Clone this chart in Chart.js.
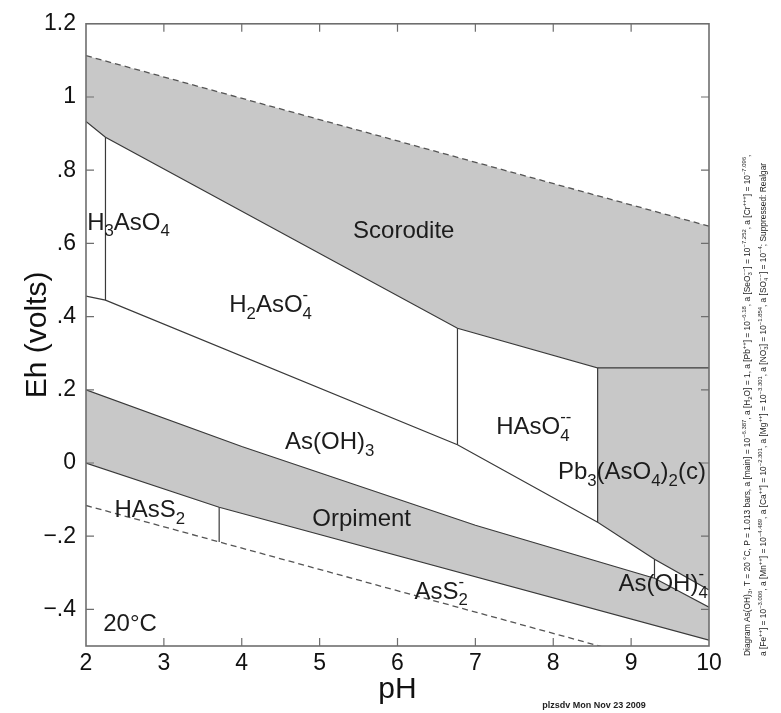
<!DOCTYPE html>
<html><head><meta charset="utf-8">
<script src="https://cdn.jsdelivr.net/npm/chart.js@4.4.1/dist/chart.umd.min.js"></script>
<style>html,body{margin:0;padding:0;background:#fff;} #wrap{width:781px;height:713px;}</style>
</head><body><div id="wrap"><canvas id="c" width="781" height="713"></canvas></div>
<script>
// ---------- axis ticks ----------
const pHTicks = [2, 3, 4, 5, 6, 7, 8, 9, 10];
const ehTicks = [-0.4, -0.2, 0, 0.2, 0.4, 0.6, 0.8, 1.0, 1.2];

// ---------- boundaries (pH, Eh volts) ----------
// water stability limits (dashed)
const o2LinePH = [2, 10];
const o2LineEh = [1.113, 0.647];
const h2LinePH = [2, 10];
const h2LineEh = [-0.116, -0.582];
// lower edge of the Scorodite + Pb3(AsO4)2(c) field
const oxideEdgePH = [2, 2.25, 6.77, 8.57, 8.57, 9.30, 10];
const oxideEdgeEh = [0.933, 0.890, 0.368, 0.260, -0.162, -0.263, -0.347];
// Scorodite / Pb3(AsO4)2(c)
const scorPbPH = [8.57, 10];
const scorPbEh = [0.260, 0.260];
// As(V) aqueous / As(OH)3
const as5as3PH = [2, 2.25, 6.77, 8.57];
const as5as3Eh = [0.456, 0.445, 0.050, -0.162];
// H3AsO4 / H2AsO4-
const h3h2PH = [2.25, 2.25];
const h3h2Eh = [0.890, 0.445];
// H2AsO4- / HAsO4--
const h2h1PH = [6.77, 6.77];
const h2h1Eh = [0.368, 0.050];
// As(OH)3 / As(OH)4-
const asohPH = [9.30, 9.30];
const asohEh = [-0.263, -0.315];
// HAsS2 / AsS2-
const hass2PH = [3.71, 3.71];
const hass2Eh = [-0.121, -0.216];
// Orpiment field
const orpTopPH = [2, 4, 7, 9.30, 10];
const orpTopEh = [0.200, 0.045, -0.170, -0.315, -0.394];
const orpBotPH = [2, 3.71, 10];
const orpBotEh = [0.000, -0.121, -0.484];

// ---------- field labels ----------
const labelTexts = ['H_{3}AsO_{4}', 'Scorodite', 'H_{2}AsO_{4}^{-}', 'HAsO_{4}^{--}', 'As(OH)_{3}',
  'Pb_{3}(AsO_{4})_{2}(c)', 'HAsS_{2}', 'Orpiment', 'AsS_{2}^{-}', 'As(OH)_{4}^{-}', '20°C'];
const labelPH = [2.546, 6.08, 4.37, 7.75, 5.13, 9.01, 2.82, 5.54, 6.56, 9.41, 2.565];
const labelEh = [0.661, 0.639, 0.435, 0.102, 0.061, -0.020, -0.124, -0.148, -0.347, -0.326, -0.435];

const captionLines = [
  'Diagram As(OH)_{3}, T = 20 °C, P = 1.013 bars, a [main] = 10^{−6.387}, a [H_{2}O] = 1, a [Pb^{++}] = 10^{−6.18}, a [SeO_{3}^{−−}] = 10^{−7.252}, a [Cr^{+++}] = 10^{−7.096},',
  'a [Fe^{++}] = 10^{−3.006}, a [Mn^{++}] = 10^{−4.489}, a [Ca^{++}] = 10^{−2.301}, a [Mg^{++}] = 10^{−3.301}, a [NO_{3}^{−}] = 10^{−1.854}, a [SO_{4}^{−−}] = 10^{−4}; Suppressed: Realgar'
];
const footer = 'plzsdv Mon Nov 23 2009';

const FONT = "'Liberation Sans', Arial, Helvetica, sans-serif";
const GRAY = 'rgb(200,200,200)';
const LINE = '#3a3a3a';

function pts(xs, ys) { return xs.map((x, i) => ({x: x, y: ys[i]})); }
function lineDs(xs, ys, extra) {
  return Object.assign({data: pts(xs, ys), showLine: true, pointRadius: 0, borderColor: LINE,
    borderWidth: 1.2, fill: false, tension: 0}, extra || {});
}

const datasets = [
  lineDs(o2LinePH, o2LineEh, {borderDash: [6, 4], borderColor: '#555', borderWidth: 1.3}),          // 0
  lineDs(oxideEdgePH, oxideEdgeEh, {fill: {target: 0}, backgroundColor: GRAY}),                    // 1
  lineDs(orpTopPH, orpTopEh),                                                                        // 2
  lineDs(orpBotPH, orpBotEh, {fill: {target: 2}, backgroundColor: GRAY}),                          // 3
  lineDs(scorPbPH, scorPbEh),
  lineDs(as5as3PH, as5as3Eh),
  lineDs(h3h2PH, h3h2Eh),
  lineDs(h2h1PH, h2h1Eh),
  lineDs(asohPH, asohEh),
  lineDs(hass2PH, hass2Eh),
  lineDs(h2LinePH, h2LineEh, {borderDash: [6, 4], borderColor: '#555', borderWidth: 1.3})
];

// ---------- rich text helpers ----------
function parseRich(str) {
  const out = []; let i = 0, buf = '';
  while (i < str.length) {
    const c = str[i];
    if ((c === '_' || c === '^') && str[i + 1] === '{') {
      if (buf) { out.push({t: 'n', s: buf}); buf = ''; }
      const j = str.indexOf('}', i);
      const s = str.slice(i + 2, j);
      i = j + 1;
      if (c === '_' && str[i] === '^' && str[i + 1] === '{') {
        const k = str.indexOf('}', i);
        out.push({t: 'ss', sub: s, sup: str.slice(i + 2, k)});
        i = k + 1;
      } else out.push({t: c === '_' ? 'sub' : 'sup', s: s});
    } else { buf += c; i++; }
  }
  if (buf) out.push({t: 'n', s: buf});
  return out;
}
function richWidth(ctx, toks, size, weight) {
  let w = 0; const small = size * 0.7;
  for (const t of toks) {
    if (t.t === 'n') { ctx.font = weight + ' ' + size + 'px ' + FONT; w += ctx.measureText(t.s).width; }
    else {
      ctx.font = weight + ' ' + small + 'px ' + FONT;
      if (t.t === 'ss') w += Math.max(ctx.measureText(t.sub).width, ctx.measureText(t.sup).width);
      else w += ctx.measureText(t.s).width;
    }
  }
  return w;
}
// draws with x = start, y = alphabetic baseline
function drawRich(ctx, str, x, y, size, weight) {
  const toks = parseRich(str); const small = size * 0.7;
  ctx.textBaseline = 'alphabetic'; ctx.textAlign = 'left';
  for (const t of toks) {
    if (t.t === 'n') {
      ctx.font = weight + ' ' + size + 'px ' + FONT; ctx.fillText(t.s, x, y); x += ctx.measureText(t.s).width;
    } else {
      ctx.font = weight + ' ' + small + 'px ' + FONT;
      if (t.t === 'sub') { ctx.fillText(t.s, x, y + size * 0.28); x += ctx.measureText(t.s).width; }
      else if (t.t === 'sup') { ctx.fillText(t.s, x, y - size * 0.45); x += ctx.measureText(t.s).width; }
      else {
        ctx.fillText(t.sub, x, y + size * 0.28);
        ctx.fillText(t.sup, x, y - size * 0.5);
        x += Math.max(ctx.measureText(t.sub).width, ctx.measureText(t.sup).width);
      }
    }
  }
  return x;
}

function fmtEh(v) {
  if (Math.abs(v) < 1e-9) return '0';
  if (Math.abs(v - Math.round(v)) < 1e-9) return String(Math.round(v));
  let s = Math.abs(v).toFixed(1);
  if (s.startsWith('0')) s = s.slice(1);
  return (v < 0 ? '−' : '') + s;
}

const decor = {
  id: 'decor',
  afterDraw(chart) {
    const ctx = chart.ctx, a = chart.chartArea;
    const xs = chart.scales.x, ys = chart.scales.y;
    ctx.save();
    // frame
    ctx.strokeStyle = '#6e6e6e'; ctx.lineWidth = 1.6;
    ctx.strokeRect(a.left, a.top, a.right - a.left, a.bottom - a.top);
    // inward ticks
    const L = 8;
    ctx.lineWidth = 1.2; ctx.beginPath();
    for (const v of pHTicks) {
      const px = xs.getPixelForValue(v);
      if (v === pHTicks[0] || v === pHTicks[pHTicks.length - 1]) continue;
      ctx.moveTo(px, a.bottom); ctx.lineTo(px, a.bottom - L);
      ctx.moveTo(px, a.top); ctx.lineTo(px, a.top + L);
    }
    for (const v of ehTicks) {
      const py = ys.getPixelForValue(v);
      if (py <= a.top + 1) continue;
      ctx.moveTo(a.left, py); ctx.lineTo(a.left + L, py);
      ctx.moveTo(a.right, py); ctx.lineTo(a.right - L, py);
    }
    ctx.stroke();
    // field labels
    ctx.fillStyle = '#1c1c1c';
    const size = 24;
    labelTexts.forEach((s, i) => {
      const w = richWidth(ctx, parseRich(s), size, 'normal');
      const cx = xs.getPixelForValue(labelPH[i]);
      const cy = ys.getPixelForValue(labelEh[i]);
      drawRich(ctx, s, cx - w / 2, cy + size * 0.36, size, 'normal');
    });
    // rotated caption on the right
    ctx.fillStyle = '#222';
    const cols = [750, 766];
    captionLines.forEach((s, i) => {
      ctx.save();
      ctx.translate(cols[i], 656);
      ctx.rotate(-Math.PI / 2);
      drawRich(ctx, s, 0, 0, 8.4, 'normal');
      ctx.restore();
    });
    // footer
    ctx.font = 'bold 9px ' + FONT; ctx.textAlign = 'center'; ctx.textBaseline = 'middle';
    ctx.fillText(footer, 594, 706);
    ctx.restore();
  }
};

new Chart(document.getElementById('c'), {
  type: 'scatter',
  data: {datasets: datasets},
  options: {
    responsive: false, animation: false, devicePixelRatio: 1,
    layout: {padding: {left: 0, top: 22, right: 72, bottom: 0}},
    plugins: {legend: {display: false}, tooltip: {enabled: false}, filler: {drawTime: 'beforeDatasetsDraw'}},
    scales: {
      x: {
        type: 'linear', min: 2, max: 10,
        afterBuildTicks: s => { s.ticks = pHTicks.map(v => ({value: v})); },
        afterFit: s => { s.height = 67; },
        grid: {display: false, drawTicks: false}, border: {display: false},
        ticks: {color: '#111', padding: 4, font: {family: FONT, size: 23}, maxRotation: 0, autoSkip: false},
        title: {display: true, text: 'pH', color: '#111', font: {family: FONT, size: 30}, padding: {top: 0, bottom: 5}}
      },
      y: {
        type: 'linear', min: -0.5, max: 1.2,
        afterBuildTicks: s => { s.ticks = ehTicks.map(v => ({value: v})); },
        afterFit: s => { s.width = 86; },
        grid: {display: false, drawTicks: false}, border: {display: false},
        ticks: {color: '#111', padding: 10, font: {family: FONT, size: 23}, callback: v => fmtEh(v), autoSkip: false},
        title: {display: true, text: 'Eh (volts)', color: '#111', font: {family: FONT, size: 30}, padding: {top: 20, bottom: 0}}
      }
    }
  },
  plugins: [decor]
});
</script></body></html>
